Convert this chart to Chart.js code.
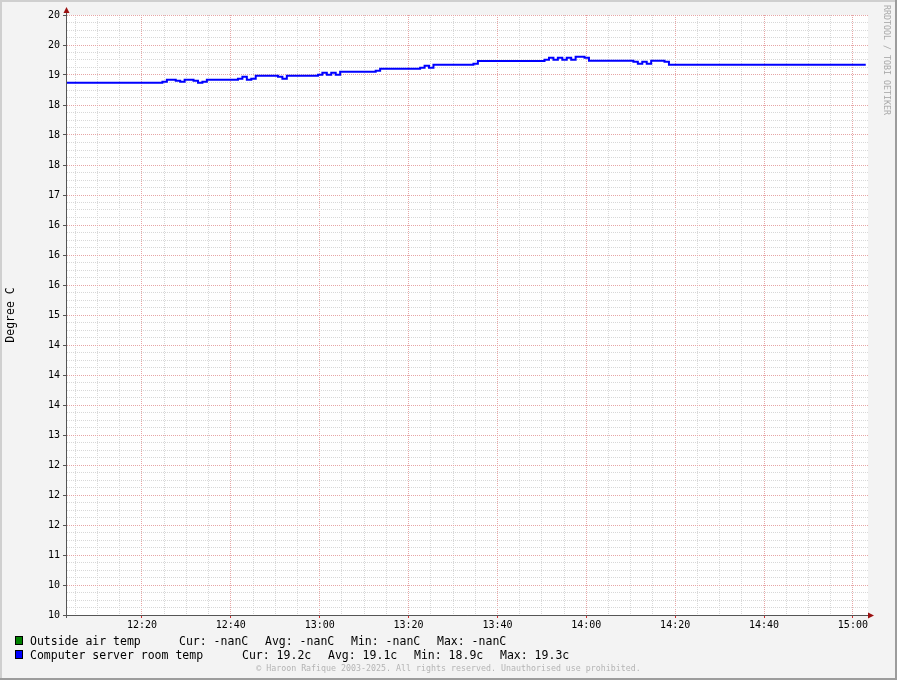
<!DOCTYPE html>
<html>
<head>
<meta charset="utf-8">
<script src="https://cdn.jsdelivr.net/npm/chart.js@4/dist/chart.umd.min.js"></script>
<style>
html,body{margin:0;padding:0;background:#f3f3f3;}
#wrap{position:relative;width:897px;height:680px;overflow:hidden;background:#f3f3f3;font-family:"DejaVu Sans Mono",monospace;}
#c{position:absolute;left:0;top:0;}
.lg{position:absolute;font-size:11.5px;line-height:14px;color:#000;white-space:pre;}
.sw{position:absolute;width:6px;height:7px;border:1px solid #000;}
#copy{position:absolute;left:0;width:897px;text-align:center;top:663px;font-size:8.3px;line-height:10px;color:#b4b4b4;white-space:pre;}
#wm{position:absolute;font-size:8.3px;line-height:10px;color:#a8a8a8;white-space:pre;transform-origin:0 0;transform:rotate(90deg);left:892px;top:5px;}
</style>
</head>
<body>
<div id="wrap">
  <canvas id="c" width="897" height="680"></canvas>
  <div id="legend"></div>
  <div id="copy"></div>
  <div id="wm"></div>
</div>
<script>
// ---- data (times are minutes since midnight; each value holds until the next time) ----
const seriesNames = ["Outside air temp", "Computer server room temp"];
const seriesColors = ["#008000", "#0000ff"];
const seriesStats = [
  ["Cur: -nanC", "Avg: -nanC", "Min: -nanC", "Max: -nanC"],
  ["Cur: 19.2c", "Avg: 19.1c", "Min: 18.9c", "Max: 19.3c"]
];
const outsideTimes = [];
const outsideTemps = [];
const serverTimes = [722.9, 744.6, 745.6, 747.6, 748.6, 749.6, 751.6, 752.6, 753.6, 754.6,
  761.6, 762.6, 763.6, 764.6, 765.6, 770.6, 771.6, 772.6, 779.6, 780.6,
  781.6, 782.6, 783.6, 784.6, 792.6, 793.6, 802.6, 803.6, 804.6, 805.6,
  814.6, 815.6, 830.6, 831.6, 832.6, 833.6, 834.6, 835.6, 836.6, 837.6,
  839.6, 840.6, 850.6, 851.6, 852.6, 853.6, 854.6, 857.6, 858.6, 902.9];
const serverTemps = [18.872, 18.888, 18.922, 18.905, 18.888, 18.922, 18.905, 18.872, 18.888, 18.922,
  18.938, 18.972, 18.922, 18.938, 18.988, 18.972, 18.938, 18.988, 19.005, 19.038,
  19.005, 19.038, 19.005, 19.055, 19.072, 19.105, 19.122, 19.155, 19.122, 19.172,
  19.188, 19.233, 19.255, 19.288, 19.255, 19.288, 19.255, 19.288, 19.255, 19.305,
  19.288, 19.238, 19.222, 19.188, 19.222, 19.188, 19.238, 19.222, 19.172, 19.172];
const xTickLabels = ["12:20", "12:40", "13:00", "13:20", "13:40", "14:00", "14:20", "14:40", "15:00"];
const yTickLabels = ["20", "20", "19", "18", "18", "18", "17", "16", "16", "16", "15",
  "14", "14", "14", "13", "12", "12", "12", "11", "10", "10"];
const yAxisTitle = "Degree C";
const copyrightText = "\u00a9 Haroon Rafique 2003-2025. All rights reserved. Unauthorised use prohibited.";
const watermarkText = "RRDTOOL / TOBI OETIKER";

// ---- axis ranges ----
const X_MIN = 722.9, X_MAX = 903.4, X_FIRST_LABEL = 740, X_LABEL_STEP = 20;
const Y_MIN = 10, Y_MAX = 20, Y_LABEL_STEP = 0.5;

const MAJOR = "#e6a6a6", MINOR = "#d8d8d8", AXIS = "#555555", ARROW = "#9b1010";
const isXMajor = v => Math.abs((v - X_FIRST_LABEL) / X_LABEL_STEP - Math.round((v - X_FIRST_LABEL) / X_LABEL_STEP)) < 1e-6;
const isYMajor = v => Math.abs(v / Y_LABEL_STEP - Math.round(v / Y_LABEL_STEP)) < 1e-6;

const decoPlugin = {
  id: "deco",
  beforeDraw(chart) {
    const {ctx, chartArea: a} = chart;
    ctx.save();
    ctx.fillStyle = "#ffffff";
    ctx.fillRect(a.left, a.top, a.right - a.left, a.bottom - a.top);
    ctx.restore();
  },
  afterDraw(chart) {
    const {ctx, chartArea: a, width, height} = chart;
    ctx.save();
    ctx.strokeStyle = AXIS; ctx.lineWidth = 1;
    ctx.beginPath();
    ctx.moveTo(Math.round(a.left) + 0.5, a.bottom + 3); ctx.lineTo(Math.round(a.left) + 0.5, a.top - 6);
    ctx.moveTo(a.left - 3, Math.round(a.bottom) + 0.5); ctx.lineTo(a.right + 4, Math.round(a.bottom) + 0.5);
    ctx.stroke();
    ctx.fillStyle = ARROW;
    const ax = Math.round(a.left) + 0.5;
    ctx.beginPath(); ctx.moveTo(ax - 3, a.top - 2); ctx.lineTo(ax + 3, a.top - 2); ctx.lineTo(ax, a.top - 8); ctx.closePath(); ctx.fill();
    const ay = Math.round(a.bottom) + 0.5;
    ctx.beginPath(); ctx.moveTo(a.right, ay - 3); ctx.lineTo(a.right, ay + 3); ctx.lineTo(a.right + 6, ay); ctx.closePath(); ctx.fill();
    ctx.fillStyle = "#cfcfcf";
    ctx.fillRect(0, 0, width, 2); ctx.fillRect(0, 0, 2, height);
    ctx.fillStyle = "#9c9c9c";
    ctx.fillRect(0, height - 2, width, 2); ctx.fillRect(width - 2, 0, 2, height);
    ctx.restore();
  }
};

const tickFont = {family: "DejaVu Sans Mono", size: 10};

new Chart(document.getElementById("c"), {
  type: "line",
  data: {
    datasets: [
      {label: seriesNames[0], data: outsideTimes.map((t, i) => ({x: t, y: outsideTemps[i]})),
       borderColor: seriesColors[0], borderWidth: 2, pointRadius: 0, stepped: true, fill: false},
      {label: seriesNames[1], data: serverTimes.map((t, i) => ({x: t, y: serverTemps[i]})),
       borderColor: seriesColors[1], borderWidth: 2, pointRadius: 0, stepped: true, fill: false}
    ]
  },
  options: {
    responsive: false, animation: false, devicePixelRatio: 1,
    layout: {padding: {left: 0, top: 15, right: 29, bottom: 0}},
    plugins: {legend: {display: false}, tooltip: {enabled: false}},
    scales: {
      x: {
        type: "linear", min: X_MIN, max: X_MAX,
        afterFit(s) { s.height = 65; },
        ticks: {
          stepSize: 5, includeBounds: false, autoSkip: false, maxRotation: 0, minRotation: 0,
          padding: 1, color: "#000", font: tickFont,
          callback(v) { return isXMajor(v) ? xTickLabels[Math.round((v - X_FIRST_LABEL) / X_LABEL_STEP)] || "" : ""; }
        },
        grid: {
          color: c => (c.tick && isXMajor(c.tick.value)) ? MAJOR : MINOR, lineWidth: 1,
          drawTicks: true, tickLength: 3, tickWidth: 1,
          tickColor: c => (c.tick && isXMajor(c.tick.value)) ? "#cc3030" : "rgba(0,0,0,0)"
        },
        border: {display: true, color: AXIS, width: 1, dash: [1, 1]}
      },
      y: {
        type: "linear", min: Y_MIN, max: Y_MAX,
        afterFit(s) { s.width = 66; },
        title: {display: true, text: yAxisTitle, color: "#000",
                font: {family: "DejaVu Sans Mono", size: 11.5}, padding: {top: 4, bottom: 0}},
        ticks: {
          stepSize: 0.125, includeBounds: false, autoSkip: false, padding: 3, color: "#000", font: tickFont,
          callback(v) { return isYMajor(v) ? yTickLabels[Math.round((Y_MAX - v) / Y_LABEL_STEP)] || "" : ""; }
        },
        grid: {
          color: c => (c.tick && isYMajor(c.tick.value)) ? MAJOR : MINOR, lineWidth: 1,
          drawTicks: true, tickLength: 3, tickWidth: 1,
          tickColor: c => (c.tick && isYMajor(c.tick.value)) ? AXIS : "rgba(0,0,0,0)"
        },
        border: {display: true, color: AXIS, width: 1, dash: [1, 1]}
      }
    }
  },
  plugins: [decoPlugin]
});

// ---- legend (html text) ----
const legend = document.getElementById("legend");
const legendTop = [634, 648], statStart = [179, 242], statGap = 86;
seriesNames.forEach((name, i) => {
  const sw = document.createElement("div");
  sw.className = "sw";
  sw.style.left = "15px"; sw.style.top = (legendTop[i] + 2) + "px";
  sw.style.background = seriesColors[i];
  legend.appendChild(sw);
  const nm = document.createElement("div");
  nm.className = "lg"; nm.style.left = "30px"; nm.style.top = legendTop[i] + "px";
  nm.textContent = name;
  legend.appendChild(nm);
  seriesStats[i].forEach((s, k) => {
    const d = document.createElement("div");
    d.className = "lg"; d.style.left = (statStart[i] + k * statGap) + "px"; d.style.top = legendTop[i] + "px";
    d.textContent = s;
    legend.appendChild(d);
  });
});
document.getElementById("copy").textContent = copyrightText;
document.getElementById("wm").textContent = watermarkText;
</script>
</body>
</html>
